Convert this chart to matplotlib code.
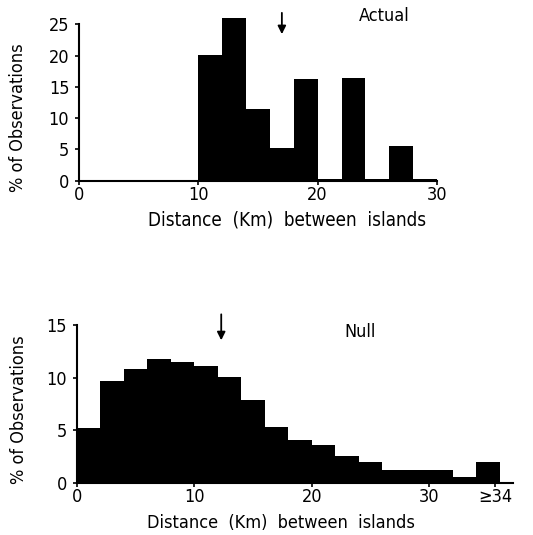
import matplotlib
matplotlib.use("Agg")
import matplotlib.pyplot as plt

# ---- data ----
actual_edges = [10, 12, 14, 16, 18, 20, 22, 24, 26, 28]
actual_values = [20.1, 26.1, 11.4, 5.2, 16.3, 0.2, 16.5, 0.2, 5.5, 0.2]
actual_mean = 17.0

null_edges = [0, 2, 4, 6, 8, 10, 12, 14, 16, 18, 20, 22, 24, 26, 28, 30, 32, 34]
null_values = [5.2, 9.7, 10.8, 11.8, 11.5, 11.1, 10.1, 7.9, 5.3, 4.1, 3.6, 2.5, 2.0,
               1.2, 1.2, 1.2, 0.5, 2.0]
null_mean = 12.3

top_xticks = [0, 10, 20, 30]
top_yticks = [0, 5, 10, 15, 20, 25]
bot_xticks = [0, 10, 20, 30, 35.6]
bot_xticklabels = ["0", "10", "20", "30", "\u226534"]
bot_yticks = [0, 5, 10, 15]

xlabel = "Distance  (Km)  between  islands"
ylabel = "% of Observations"

plt.rcParams["font.family"] = ["DejaVu Sans"]
plt.rcParams["font.stretch"] = "condensed"

fig = plt.figure(figsize=(5.33, 5.35), dpi=100)
W, H = 533, 535

def style(ax):
    for s in ["top", "right"]:
        ax.spines[s].set_visible(False)
    ax.spines["left"].set_linewidth(1.5)
    ax.spines["bottom"].set_linewidth(1.5)
    ax.tick_params(direction="out", length=3, width=1.2, labelsize=13)
    ax.tick_params(axis="y", pad=4)
    ax.tick_params(axis="x", pad=1)

# top axes
ax1 = fig.add_axes([79 / W, 1 - 180.7 / H, 358 / W, 28 * 6.25 / H])
ax1.bar(actual_edges, actual_values, width=2, align="edge", color="black", linewidth=0)
ax1.set_xlim(0, 30)
ax1.set_ylim(0, 28)
ax1.set_xticks(top_xticks)
ax1.set_yticks(top_yticks)
ax1.spines["left"].set_bounds(0, 25)
style(ax1)
ax1.set_xlabel(xlabel, fontsize=13.5)
ax1.xaxis.set_label_coords(0.58, -0.17)
ax1.set_ylabel(ylabel, fontsize=13)
ax1.yaxis.set_label_coords(-0.145, 0.358)
ax1.annotate("", xy=(actual_mean, 23.0), xytext=(actual_mean, 27.3),
             arrowprops=dict(arrowstyle="-|>", color="black", lw=1.3, mutation_scale=12))
ax1.text(25.6, 26.3, "Actual", fontsize=13, ha="center", va="center")

# bottom axes
ax2 = fig.add_axes([76.7 / W, 1 - 482.7 / H, 37.1 * 11.75 / W, 16.5 * 10.5 / H])
ax2.bar(null_edges, null_values, width=2, align="edge", color="black", linewidth=0)
ax2.set_xlim(0, 37.1)
ax2.set_ylim(0, 16.5)
ax2.set_xticks(bot_xticks)
ax2.set_xticklabels(bot_xticklabels)
ax2.set_yticks(bot_yticks)
ax2.spines["left"].set_bounds(0, 15)
style(ax2)
ax2.set_xlabel(xlabel, fontsize=13)
ax2.xaxis.set_label_coords(0.469, -0.182)
ax2.set_ylabel(ylabel, fontsize=13)
ax2.yaxis.set_label_coords(-0.112, 0.42)
ax2.annotate("", xy=(null_mean, 13.3), xytext=(null_mean, 16.3),
             arrowprops=dict(arrowstyle="-|>", color="black", lw=1.3, mutation_scale=12))
ax2.text(24.1, 14.35, "Null", fontsize=13, ha="center", va="center")

fig.savefig("out.png", dpi=100)
